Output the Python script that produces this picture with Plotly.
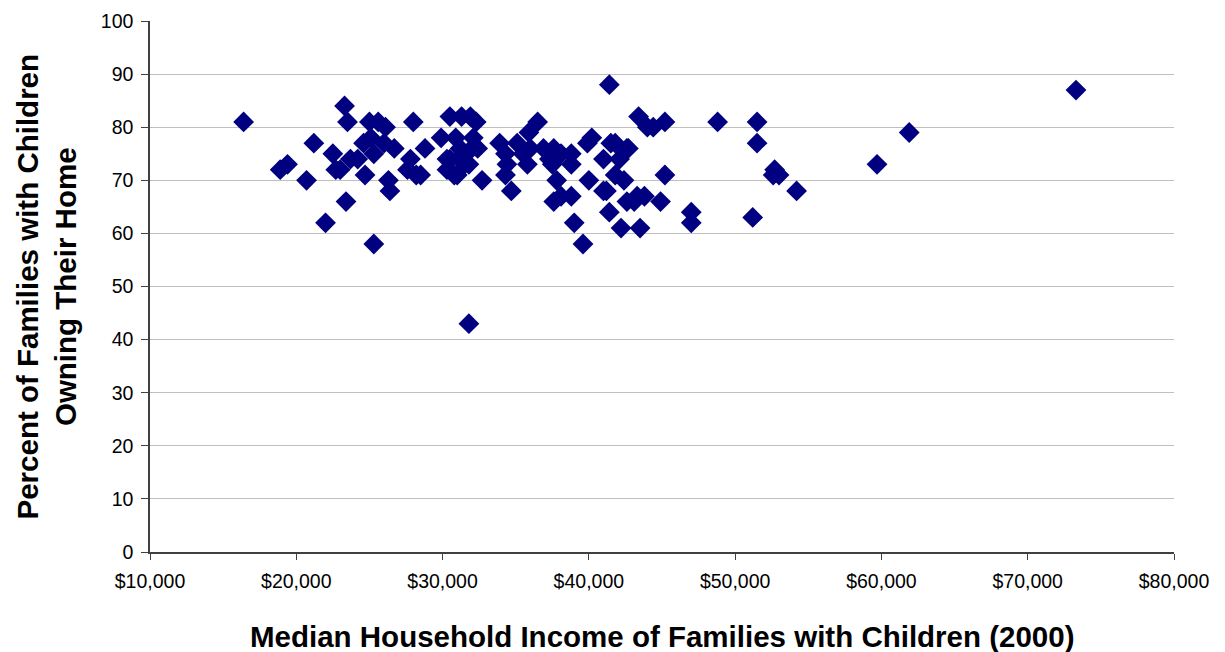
import plotly.graph_objects as go

# Median household income of families with children (2000), in dollars
income = [
    16400, 18900, 19400, 20700, 21200, 22000, 22500, 22700, 23000, 23300,
    23500, 23400, 23700, 24200, 24600, 24700, 25000, 25100, 25300, 25300,
    25600, 26000, 26100, 26300, 26400, 26700, 27600, 27800, 28000, 28200,
    28500, 28800, 29900, 30500, 30300, 30300, 30800, 30900, 31000, 31300,
    31400, 31500, 31800, 31900, 32000, 32100, 32300, 32400, 32700, 31800,
    31200, 30500,
    33900, 34300, 34300, 34400, 34700, 35100, 35500, 35800, 35900, 36000,
    36500, 36900, 37300, 37500, 37600, 37800, 37600, 38100, 38100, 38800,
    38800, 38800, 39000, 39600, 39900, 40000, 40200, 41000, 41000, 41200,
    41400, 41400, 41500, 41800, 41800, 42200, 42400, 42600, 42700, 42100,
    42600, 43100, 43300, 43400, 43500, 43800, 44000, 44400, 44900, 45200,
    45200, 47000, 47000, 48800,
    51200, 51500, 51500, 52600, 52700, 53000, 54200, 59700, 61900, 73300,
]

# Percent of families with children owning their home
owning = [
    81, 72, 73, 70, 77, 62, 75, 72, 72, 84,
    81, 66, 74, 74, 77, 71, 81, 78, 75, 58,
    81, 77, 80, 70, 68, 76, 72, 74, 81, 71,
    71, 76, 78, 82, 72, 74, 71, 78, 71, 82,
    75, 73, 73, 82, 76, 78, 81, 76, 70, 43,
    76, 74,
    77, 75, 71, 73, 68, 77, 75, 73, 79, 76,
    81, 76, 74, 73, 66, 70, 76, 75, 67, 75,
    73, 67, 62, 58, 77, 70, 78, 74, 68, 68,
    64, 88, 77, 77, 71, 61, 70, 76, 76, 74,
    66, 66, 67, 82, 61, 67, 80, 80, 66, 81,
    71, 64, 62, 81,
    63, 81, 77, 71, 72, 71, 68, 73, 79, 87,
]

x_ticks = [10000, 20000, 30000, 40000, 50000, 60000, 70000, 80000]
x_tick_labels = ["$10,000", "$20,000", "$30,000", "$40,000",
                 "$50,000", "$60,000", "$70,000", "$80,000"]
y_ticks = [0, 10, 20, 30, 40, 50, 60, 70, 80, 90, 100]

x_title = "Median Household Income of Families with Children (2000)"
y_title = "Percent of Families with Children<br>Owning Their Home"

FONT = "Liberation Sans, Arial, sans-serif"

fig = go.Figure(
    go.Scatter(
        x=income,
        y=owning,
        mode="markers",
        marker=dict(symbol="diamond", size=16, color="#000080",
                    line=dict(width=0)),
        hoverinfo="x+y",
    )
)

fig.update_layout(
    width=1225,
    height=652,
    margin=dict(l=150, r=51, t=21, b=100),
    paper_bgcolor="white",
    plot_bgcolor="white",
    showlegend=False,
    font=dict(family=FONT, color="black", size=20),
)

fig.update_xaxes(
    range=[10000, 80000],
    tickvals=x_ticks,
    ticktext=x_tick_labels,
    ticks="outside",
    ticklen=6,
    tickcolor="#404040",
    ticklabelstandoff=5,
    showline=True,
    linecolor="#404040",
    linewidth=1.5,
    showgrid=False,
    zeroline=False,
    automargin=False,
    tickfont=dict(size=19.5),
)

fig.update_yaxes(
    range=[0, 100],
    tickvals=y_ticks,
    ticks="outside",
    ticklen=7,
    tickcolor="#404040",
    ticklabelstandoff=4,
    showline=True,
    linecolor="#404040",
    linewidth=1.5,
    showgrid=True,
    gridcolor="#c0c0c0",
    gridwidth=1,
    zeroline=False,
    automargin=False,
    tickfont=dict(size=19.5),
)

# Axis titles
fig.add_annotation(
    text=f"<b>{x_title}</b>",
    xref="paper", yref="paper", x=0.5, y=0,
    xanchor="center", yanchor="middle", yshift=-84,
    showarrow=False, font=dict(size=29.5, family=FONT, color="black"),
)
fig.add_annotation(
    text=f"<b>{y_title}</b>",
    xref="paper", yref="paper", x=0, y=0.5,
    xanchor="center", yanchor="middle", xshift=-104,
    textangle=-90,
    showarrow=False, font=dict(size=29.5, family=FONT, color="black"),
)

fig.write_html("out.html")
